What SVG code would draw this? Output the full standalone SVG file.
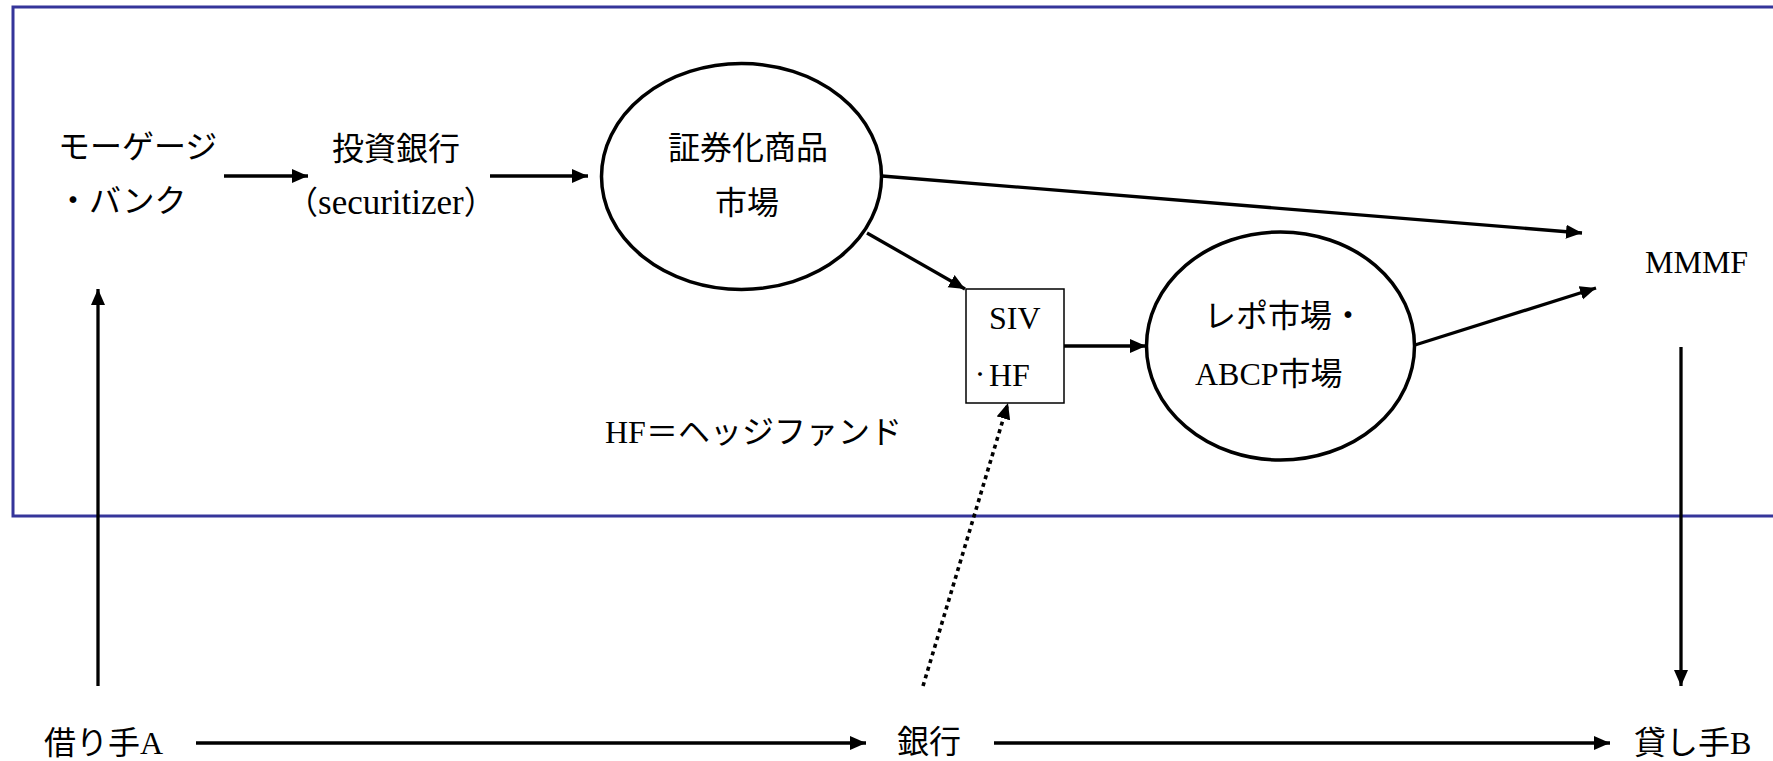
<svg xmlns="http://www.w3.org/2000/svg" width="1773" height="761" viewBox="0 0 1773 761">
<style>
.t{font-family:'Liberation Serif','Noto Sans CJK JP',serif;font-size:32px;fill:#000}
.l{font-family:'Liberation Serif',serif}
.c{stroke:#000;stroke-width:3.3;fill:none}
.e{stroke:#000;stroke-width:3.5;fill:#fff}
.d{stroke:#000;stroke-width:3.6;fill:none;stroke-dasharray:4 4}
</style>
<defs>
<marker id="ah" markerUnits="userSpaceOnUse" markerWidth="17" markerHeight="15" refX="16" refY="7" orient="auto">
<path d="M0,0 L16,7 L0,14 Z" fill="#000"/>
</marker>
</defs>
<rect id="frame" x="13" y="7" width="1790" height="509" fill="none" stroke="#35359a" stroke-width="3"/>
<g id="connectors">
<line class="c" x1="224" y1="176" x2="308" y2="176" marker-end="url(#ah)"/>
<line class="c" x1="490" y1="176" x2="588" y2="176" marker-end="url(#ah)"/>
<line class="c" x1="882" y1="176" x2="1582" y2="233" marker-end="url(#ah)"/>
<line class="c" x1="867" y1="233" x2="965" y2="289" marker-end="url(#ah)"/>
<line class="c" x1="1064" y1="346" x2="1146" y2="346" marker-end="url(#ah)"/>
<line class="c" x1="1415" y1="345" x2="1596" y2="288" marker-end="url(#ah)"/>
<line class="c" x1="1681" y1="347" x2="1681" y2="686" marker-end="url(#ah)"/>
<line class="c" x1="98" y1="686" x2="98" y2="289" marker-end="url(#ah)"/>
<line class="c" x1="196" y1="743" x2="866" y2="743" marker-end="url(#ah)"/>
<line class="c" x1="994" y1="743" x2="1610" y2="743" marker-end="url(#ah)"/>
<line class="d" x1="923" y1="686" x2="1008" y2="403" marker-end="url(#ah)"/>
</g>
<g id="mortgage">
<text class="t" x="58" y="158">モーゲージ</text>
<text class="t" x="57" y="212">・バンク</text>
</g>
<g id="ibank">
<text class="t" x="332" y="160">投資銀行</text>
<text class="t" x="286" y="214">（<tspan class="l" font-size="35">securitizer</tspan>）</text>
</g>
<g id="secmarket">
<ellipse class="e" cx="741.5" cy="176.5" rx="140" ry="113"/>
<text class="t" x="668" y="159">証券化商品</text>
<text class="t" x="715" y="214">市場</text>
</g>
<g id="siv">
<rect x="966" y="289" width="98" height="114" fill="#fff" stroke="#000" stroke-width="1.5"/>
<text class="t" x="989" y="329"><tspan class="l">SIV</tspan></text>
<text class="t"><tspan x="971" y="381" font-size="18">・</tspan><tspan class="l" x="989" y="386">HF</tspan></text>
</g>
<g id="repo">
<ellipse class="e" cx="1280.5" cy="346" rx="134" ry="114"/>
<text class="t" x="1204" y="327">レポ市場・</text>
<text class="t" x="1195" y="385"><tspan class="l">ABCP</tspan>市場</text>
</g>
<g id="mmmf">
<text class="t l" x="1645" y="273" font-size="33">MMMF</text>
</g>
<g id="note">
<text class="t" x="605" y="443"><tspan class="l">HF</tspan>＝ヘッジファンド</text>
</g>
<g id="borrower">
<text class="t" x="44" y="754">借り手<tspan class="l">A</tspan></text>
</g>
<g id="bank">
<text class="t" x="897" y="753">銀行</text>
</g>
<g id="lender">
<text class="t" x="1634" y="754">貸し手<tspan class="l">B</tspan></text>
</g>
</svg>
